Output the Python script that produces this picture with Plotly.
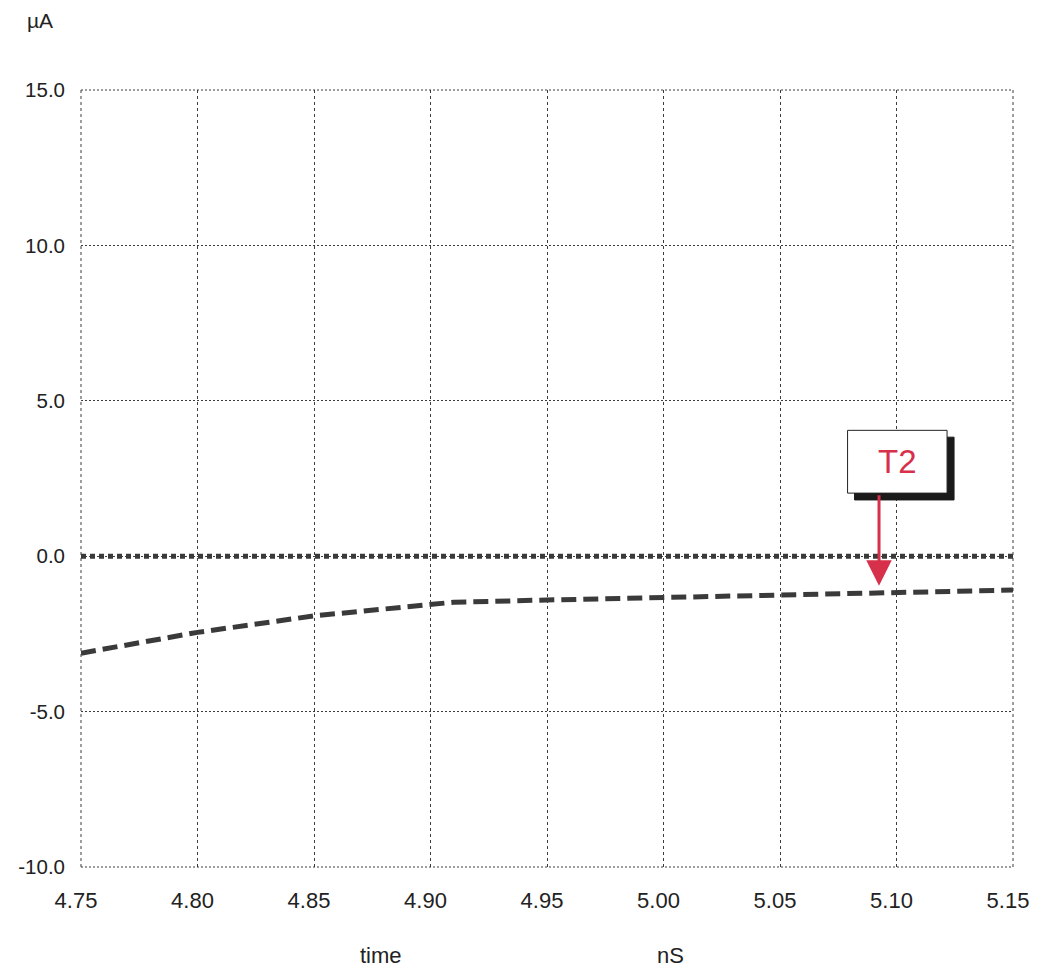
import plotly.graph_objects as go

# Data
time_ns = [4.75, 4.80, 4.85, 4.90, 4.91, 4.95, 5.00, 5.05, 5.10, 5.15]
current_dashed = [-3.12, -2.45, -1.92, -1.53, -1.48, -1.41, -1.32, -1.23, -1.16, -1.09]
current_zero = [0.0] * len(time_ns)

x_ticks = [4.75, 4.80, 4.85, 4.90, 4.95, 5.00, 5.05, 5.10, 5.15]
x_tick_text = ["4.75", "4.80", "4.85", "4.90", "4.95", "5.00", "5.05", "5.10", "5.15"]
y_ticks = [-10.0, -5.0, 0.0, 5.0, 10.0, 15.0]
y_tick_text = ["-10.0", "-5.0", "0.0", "5.0", "10.0", "15.0"]

marker_time = 5.0925
marker_value = -0.95
marker_label = "T2"

FONT = "Liberation Sans, Arial, Helvetica, sans-serif"
RED = "#d7304a"
GRID = "#3c3c3c"

fig = go.Figure()
fig.add_trace(go.Scatter(x=time_ns, y=current_zero, mode="lines",
                         line=dict(color="#3a3a3a", width=5, dash="5px,4px"),
                         showlegend=False, hoverinfo="skip"))
fig.add_trace(go.Scatter(x=time_ns, y=current_dashed, mode="lines",
                         line=dict(color="#3a3a3a", width=5, dash="15px,7px"),
                         showlegend=False))

# Plot frame lines at the range edges (styled like the grid)
for xv in (0, 1):
    fig.add_shape(type="line", xref="paper", yref="paper", x0=xv, x1=xv, y0=0, y1=1,
                  line=dict(color=GRID, width=1, dash="3px,3px"), layer="below")
for yv in (0, 1):
    fig.add_shape(type="line", xref="paper", yref="paper", x0=0, x1=1, y0=yv, y1=yv,
                  line=dict(color=GRID, width=1, dash="2px,2px"), layer="below")

# Marker box with shadow (data coordinates)
bx0, bx1 = 5.0790, 5.1217
by0, by1 = 2.03, 4.05
dx, dy = 0.0030, -0.22
fig.add_shape(type="rect", x0=bx0 + dx, x1=bx1 + dx, y0=by0 + dy, y1=by1 + dy,
              fillcolor="#1a1a1a", line=dict(color="#1a1a1a", width=1), layer="above")
fig.add_shape(type="rect", x0=bx0, x1=bx1, y0=by0, y1=by1,
              fillcolor="white", line=dict(color="#222", width=1), layer="above")
fig.add_annotation(x=(bx0 + bx1) / 2, y=(by0 + by1) / 2, text=marker_label,
                   showarrow=False, font=dict(family=FONT, size=33, color=RED))
fig.add_annotation(x=marker_time, y=marker_value, text="", showarrow=True,
                   ax=0, ay=-92, arrowhead=2, arrowsize=1.7, arrowwidth=3,
                   arrowcolor=RED, standoff=0)

# Axis captions
fig.add_annotation(xref="paper", yref="paper", x=-0.06, y=1.0, yshift=70,
                   yanchor="middle", xanchor="left",
                   text="µA", showarrow=False,
                   font=dict(family=FONT, size=21, color="#222"))
fig.add_annotation(xref="paper", yref="paper", x=0.297, y=0, yshift=-88,
                   yanchor="middle", text="time", showarrow=False,
                   font=dict(family=FONT, size=22, color="#222"))
fig.add_annotation(xref="paper", yref="paper", x=0.632, y=0, yshift=-88,
                   yanchor="middle", text="nS", showarrow=False,
                   font=dict(family=FONT, size=22, color="#222"))

fig.update_xaxes(range=[4.75, 5.15], tickvals=x_ticks, ticktext=x_tick_text,
                 showgrid=True, gridcolor=GRID, gridwidth=1, griddash="3px,3px",
                 zeroline=False, showline=False, ticks="", ticklabelstandoff=18,
                 ticklabelshift=-5, automargin=False,
                 tickfont=dict(family=FONT, size=22, color="#222"))
fig.update_yaxes(range=[-10, 15], tickvals=y_ticks, ticktext=y_tick_text,
                 showgrid=True, gridcolor=GRID, gridwidth=1, griddash="2px,2px",
                 zeroline=False, showline=False, ticks="", ticklabelstandoff=15,
                 automargin=False,
                 tickfont=dict(family=FONT, size=20.5, color="#222"))

fig.update_layout(width=1037, height=970, plot_bgcolor="white", paper_bgcolor="white",
                  margin=dict(l=81, r=24, t=90, b=103, autoexpand=False), showlegend=False,
                  font=dict(family=FONT))

# Remove the default 8px page body margin so the figure fills the window exactly.
fig.write_html("out.html", config={"displayModeBar": False},
               post_script="document.body.style.margin='0';")
